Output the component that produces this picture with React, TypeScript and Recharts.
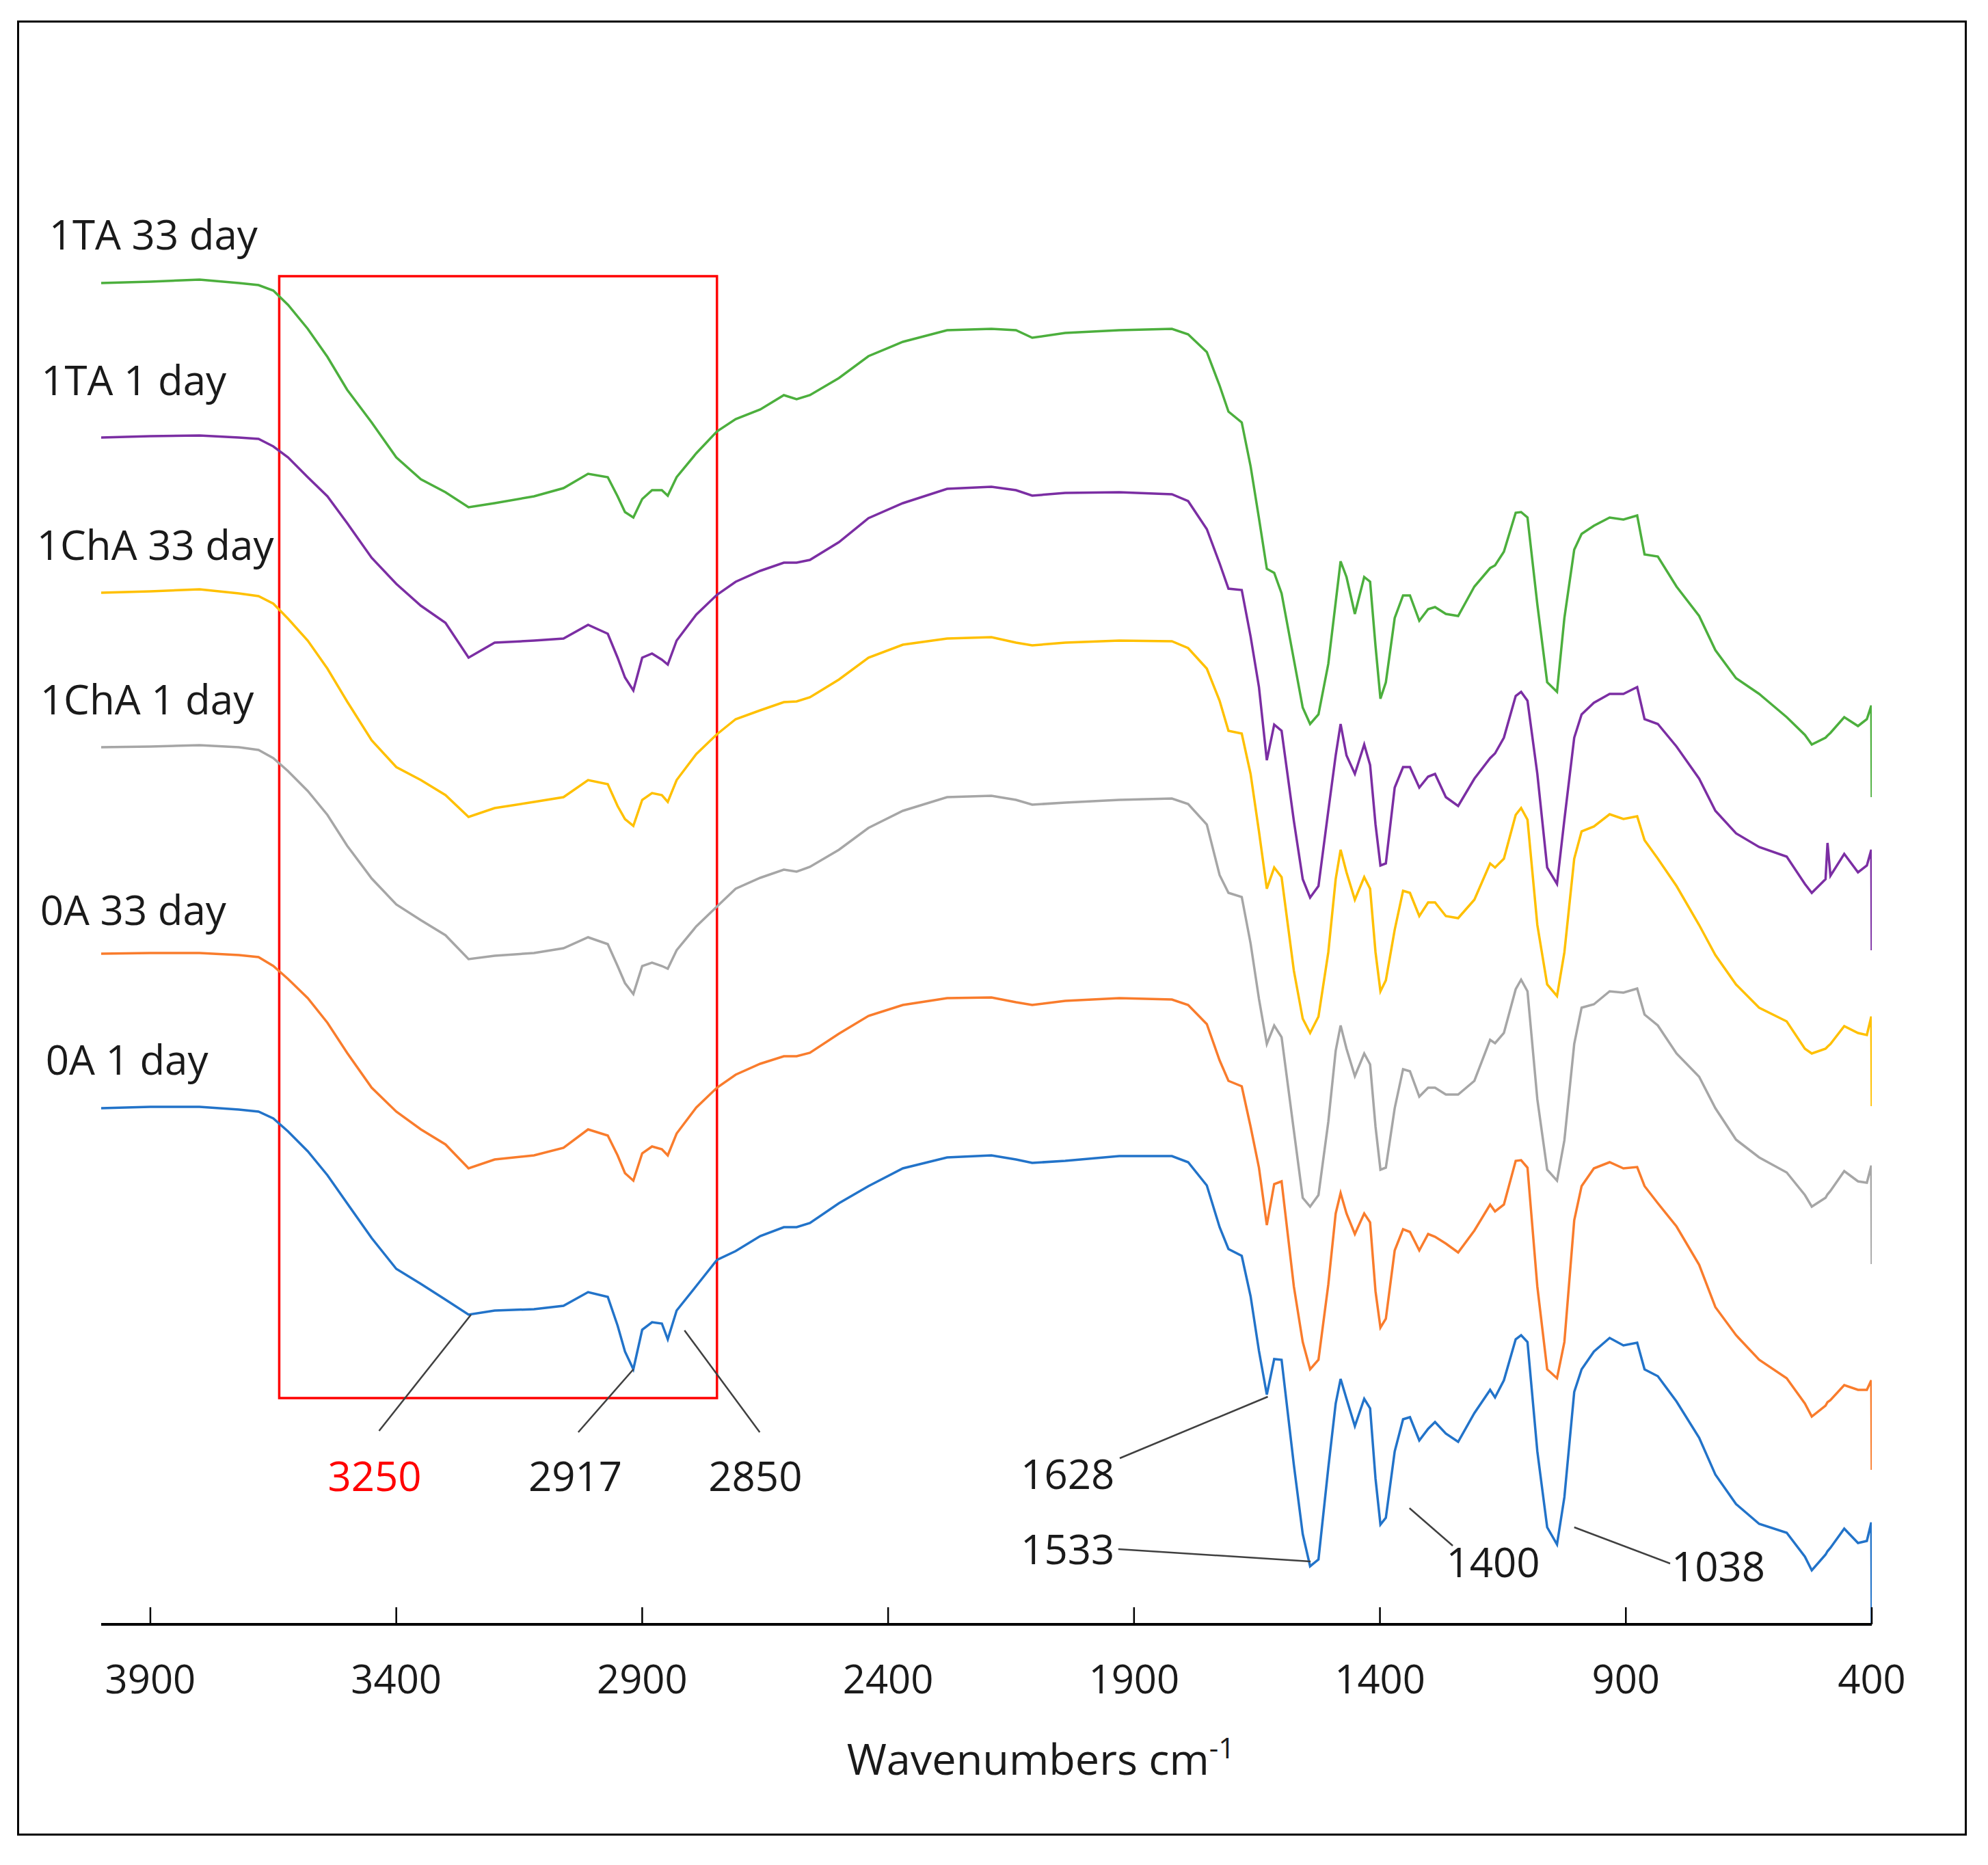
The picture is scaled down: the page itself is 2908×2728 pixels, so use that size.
import React from 'react';
import { LineChart, Line, XAxis, YAxis, ReferenceArea, ReferenceLine, ReferenceDot } from 'recharts';

const FONT = "'Open Sans', 'Noto Sans', sans-serif";

// wavenumbers (cm-1), shared grid for all spectra
const wavenumbers = [
  4000, 3900, 3800, 3720, 3680, 3650, 3620, 3580, 3540, 3500, 3450, 3400, 3350, 3300, 3253, 3200, 3120, 3060, 3010, 2970,
  2950, 2935, 2918, 2900, 2880, 2860, 2848, 2830, 2790, 2748, 2710, 2660, 2612, 2586, 2559, 2500, 2440, 2370, 2280, 2190,
  2140, 2107, 2040, 1930, 1823, 1790, 1752, 1726, 1708, 1681, 1663, 1646, 1630, 1615, 1600, 1575, 1557, 1542, 1525, 1505,
  1490, 1480, 1468, 1451, 1432, 1420, 1409, 1399, 1388, 1370, 1353, 1339, 1320, 1302, 1288, 1266, 1241, 1208, 1176, 1166,
  1148, 1124, 1113, 1100, 1080, 1060, 1040, 1025, 1005, 990, 965, 933, 905, 877, 862, 835, 797, 751, 718, 676,
  629, 573, 536, 522, 494, 490, 484, 456, 428, 410, 401, 400,
];

// offset transmittance (arbitrary units)
const ta33Day = [
  196.2, 196.4, 196.7, 196.2, 195.9, 195.1, 193.0, 189.5, 185.4, 180.6, 175.8, 170.7, 167.5, 165.6, 163.4, 164.0, 165.0, 166.2, 168.3, 167.8,
  165.0, 162.7, 161.9, 164.6, 165.9, 165.9, 165.1, 167.8, 171.3, 174.5, 176.3, 177.7, 179.8, 179.2, 179.8, 182.3, 185.5, 187.6, 189.3, 189.5,
  189.3, 188.2, 188.9, 189.3, 189.5, 188.7, 186.1, 181.2, 177.4, 175.8, 169.4, 161.8, 154.4, 153.8, 150.8, 141.1, 134.1, 131.7, 133.1, 140.5,
  149.5, 155.5, 153.2, 147.8, 153.2, 152.5, 143.1, 135.4, 137.8, 147.2, 150.5, 150.5, 146.8, 148.5, 148.8, 147.8, 147.5, 151.8, 154.5, 154.9,
  156.9, 162.6, 162.7, 161.9, 149.2, 137.8, 136.4, 147.2, 157.2, 159.5, 160.7, 161.9, 161.6, 162.2, 156.5, 156.2, 151.8, 147.5, 142.5, 138.4,
  136.1, 132.7, 130.1, 128.7, 129.7, 130.0, 130.4, 132.7, 131.4, 132.4, 134.4, 121.0,
];
const ta1Day = [
  173.6, 173.8, 173.9, 173.6, 173.4, 172.3, 170.7, 167.8, 165.0, 161.1, 156.0, 152.2, 149.0, 146.5, 141.4, 143.6, 143.9, 144.2, 146.2, 144.9,
  141.4, 138.5, 136.6, 141.4, 142.0, 141.1, 140.4, 143.9, 147.7, 150.6, 152.5, 154.1, 155.3, 155.3, 155.7, 158.3, 161.8, 164.0, 166.1, 166.4,
  165.9, 165.1, 165.5, 165.6, 165.3, 164.3, 160.2, 155.2, 151.5, 151.3, 144.5, 137.1, 126.4, 131.6, 130.7, 117.5, 109.0, 106.3, 108.0, 119.0,
  127.1, 131.7, 127.1, 124.4, 128.7, 125.7, 117.0, 111.0, 111.3, 122.4, 125.4, 125.4, 122.4, 124.0, 124.4, 121.0, 119.7, 123.7, 126.7, 127.4,
  129.7, 135.8, 136.4, 135.1, 124.4, 110.7, 108.3, 117.7, 129.7, 133.1, 134.8, 136.1, 136.1, 137.1, 132.4, 131.7, 128.4, 123.7, 119.0, 115.7,
  113.7, 112.3, 108.3, 107.0, 109.0, 114.3, 109.5, 112.7, 110.0, 111.0, 113.3, 98.6,
];
const cha33Day = [
  150.9, 151.1, 151.4, 150.8, 150.4, 149.3, 147.1, 143.9, 139.8, 135.0, 129.3, 125.4, 123.5, 121.3, 118.1, 119.4, 120.3, 121.0, 123.5, 122.9,
  119.7, 117.8, 116.8, 120.6, 121.6, 121.3, 120.3, 123.5, 127.3, 130.2, 132.4, 133.7, 134.9, 135.0, 135.6, 138.2, 141.4, 143.3, 144.2, 144.4,
  143.6, 143.2, 143.6, 143.9, 143.8, 142.8, 139.8, 135.1, 130.7, 130.3, 124.4, 116.0, 107.6, 110.7, 109.3, 95.6, 88.6, 86.5, 88.9, 98.3,
  109.0, 113.3, 110.0, 106.0, 109.3, 107.6, 98.3, 92.6, 94.2, 101.6, 107.3, 107.0, 103.6, 105.6, 105.6, 103.6, 103.3, 106.0, 111.3, 110.7,
  112.0, 118.4, 119.4, 117.7, 102.3, 93.6, 91.9, 98.3, 112.0, 116.0, 116.7, 118.5, 117.8, 118.2, 114.7, 112.0, 108.0, 102.3, 97.9, 93.6,
  90.2, 88.2, 84.2, 83.5, 84.2, 84.5, 84.9, 87.5, 86.5, 86.2, 88.9, 75.8,
];
const cha1Day = [
  128.3, 128.4, 128.6, 128.3, 127.9, 126.7, 124.8, 121.9, 118.4, 113.9, 109.1, 105.3, 103.0, 100.8, 97.3, 97.8, 98.2, 98.9, 100.5, 99.5,
  96.3, 93.8, 92.2, 96.3, 96.8, 96.3, 95.9, 98.6, 102.1, 105.0, 107.6, 109.2, 110.4, 110.1, 110.8, 113.3, 116.5, 119.0, 121.0, 121.2,
  120.6, 119.9, 120.2, 120.6, 120.8, 120.0, 117.0, 109.6, 107.0, 106.4, 99.6, 91.5, 84.9, 87.6, 85.9, 72.2, 62.4, 61.1, 62.8, 73.5,
  83.9, 87.6, 84.2, 80.2, 83.5, 81.9, 72.8, 66.5, 66.8, 75.5, 81.2, 80.9, 77.2, 78.5, 78.5, 77.5, 77.5, 79.5, 85.5, 85.0,
  86.5, 92.9, 94.3, 92.6, 76.8, 66.5, 64.9, 70.8, 84.9, 90.2, 90.7, 92.6, 92.4, 93.0, 89.2, 87.6, 83.5, 80.1, 75.5, 70.9,
  68.3, 66.1, 62.8, 61.1, 62.4, 62.9, 63.4, 66.3, 64.8, 64.6, 67.1, 52.7,
];
const a0_33Day = [
  98.1, 98.2, 98.2, 97.9, 97.6, 96.3, 94.4, 91.6, 88.0, 83.6, 78.5, 75.0, 72.4, 70.2, 66.7, 68.0, 68.6, 69.7, 72.4, 71.5,
  68.6, 66.0, 64.9, 68.9, 69.9, 69.5, 68.6, 71.8, 75.6, 78.5, 80.4, 82.0, 83.1, 83.1, 83.6, 86.4, 89.0, 90.6, 91.6, 91.7,
  91.0, 90.6, 91.2, 91.6, 91.4, 90.6, 87.8, 82.5, 79.5, 78.7, 72.8, 66.8, 58.4, 64.4, 64.8, 49.4, 41.3, 37.3, 38.7, 49.7,
  60.1, 63.1, 60.1, 57.1, 60.1, 58.8, 48.7, 43.4, 44.7, 54.7, 57.8, 57.4, 54.7, 57.1, 56.7, 55.7, 54.4, 57.6, 61.4, 60.4,
  61.4, 67.8, 67.9, 66.8, 49.4, 37.3, 36.0, 41.3, 59.1, 64.1, 66.7, 67.6, 66.7, 66.9, 64.1, 61.6, 58.2, 52.6, 46.4, 42.3,
  38.7, 36.0, 32.3, 30.4, 32.0, 32.5, 32.8, 35.0, 34.3, 34.3, 35.7, 22.6,
];
const a0_1Day = [
  75.5, 75.7, 75.7, 75.3, 75.0, 74.0, 72.1, 69.2, 65.7, 61.6, 56.5, 52.0, 49.8, 47.5, 45.3, 45.9, 46.1, 46.6, 48.6, 47.9,
  43.7, 39.9, 37.3, 43.1, 44.2, 44.0, 41.7, 45.9, 49.5, 53.3, 54.6, 56.8, 58.1, 58.1, 58.7, 61.6, 64.1, 66.7, 68.3, 68.6,
  68.0, 67.5, 67.8, 68.5, 68.5, 67.6, 64.2, 58.1, 54.9, 53.9, 48.0, 40.0, 33.6, 38.8, 38.7, 23.3, 13.2, 8.5, 9.5, 22.9,
  32.3, 35.9, 33.0, 29.0, 33.0, 31.6, 21.3, 14.6, 15.6, 25.3, 30.0, 30.3, 26.9, 28.6, 29.6, 27.9, 26.7, 30.9, 34.3, 33.2,
  35.7, 41.7, 42.3, 41.3, 25.3, 14.2, 11.7, 18.6, 34.0, 37.3, 39.9, 41.9, 40.8, 41.2, 37.3, 36.3, 32.6, 27.3, 21.9, 17.6,
  14.7, 13.4, 9.9, 7.9, 10.2, 10.7, 11.2, 14.0, 11.9, 12.2, 14.9, 0.0,
];

const seriesKeys = ['a0_1', 'a0_33', 'cha1', 'cha33', 'ta1', 'ta33'];
const seriesNames = ['0A 1 day', '0A 33 day', '1ChA 1 day', '1ChA 33 day', '1TA 1 day', '1TA 33 day'];
const seriesColors = ['#2273C9', '#F97C2C', '#A6A6A6', '#FFC000', '#7B2EA3', '#4CAF3D'];
const seriesValues = [a0_1Day, a0_33Day, cha1Day, cha33Day, ta1Day, ta33Day];

// series label anchors (wavenumber, value) at left of the traces
const labelW = [4113, 4124, 4124, 4131, 4122, 4106];
const labelV = [82.6, 104.5, 135.3, 157.9, 182.0, 203.3];

const tickValues = [3900, 3400, 2900, 2400, 1900, 1400, 900, 400];

// highlighted region
const boxX = [3638, 2748];
const boxY = [33.1, 197.2];

// peak annotations: text, text position, leader line
const peakTexts = ['3250', '2917', '2850', '1628', '1533', '1400', '1038'];
const peakTextColors = ['#FF0000', '#1a1a1a', '#1a1a1a', '#1a1a1a', '#1a1a1a', '#1a1a1a', '#1a1a1a'];
const peakTextW = [3444, 3036, 2670, 2035, 2035, 1170, 712];
const peakTextV = [21.7, 21.7, 21.7, 22.0, 11.0, 9.1, 8.5];
const leaderFrom = [[3248, 45.3], [2918, 37.3], [2814, 43.0], [1628, 33.3], [1932, 11.0], [1340, 17.0], [1005, 14.2]];
const leaderTo = [[3435, 28.3], [3030, 28.1], [2661, 28.1], [1929, 24.3], [1541, 9.2], [1252, 11.5], [810, 8.9]];

// axis title anchor (start of text, baseline)
const titleW = 2484;
const titleV = -22.0;

const data = wavenumbers.map((w, i) => {
  const row: Record<string, number> = { w };
  seriesKeys.forEach((k, j) => {
    row[k] = seriesValues[j][i];
  });
  return row;
});

const makeText = (text: string, anchor: string, color: string, size: number) => (props: any) => (
  <text
    x={props.cx}
    y={props.cy}
    dy="0.36em"
    textAnchor={anchor}
    fill={color}
    fontSize={size}
    fontFamily={FONT}
  >
    {text}
  </text>
);

const titleShape = (props: any) => (
  <text x={props.cx} y={props.cy} textAnchor="start" fill="#1a1a1a" fontSize={63} fontFamily={FONT}>
    <tspan>Wavenumbers cm</tspan>
    <tspan dy={-24} fontSize={42}>-1</tspan>
  </text>
);

export default function App() {
  return (
    <div style={{ position: 'absolute', left: 0, top: 0, width: 2908, height: 2728, background: '#fff' }}>
      <div
        style={{
          position: 'absolute',
          left: 25,
          top: 30,
          width: 2852,
          height: 2655,
          border: '3px solid #000',
          boxSizing: 'border-box',
        }}
      />
      <div style={{ position: 'absolute', left: 0, top: 0 }}>
        <LineChart width={2908} height={2728} data={data} margin={{ top: 176, right: 170, bottom: 0, left: 148 }}>
          <XAxis
            dataKey="w"
            type="number"
            domain={[400, 4000]}
            reversed
            allowDataOverflow
            ticks={tickValues}
            interval={0}
            height={352}
            tickSize={-25}
            tickMargin={85}
            axisLine={{ stroke: '#000', strokeWidth: 4 }}
            tickLine={{ stroke: '#000', strokeWidth: 2.5 }}
            tick={{ fill: '#1a1a1a', fontSize: 58, fontFamily: FONT }}
          />
          <YAxis type="number" domain={[0, 220]} allowDataOverflow hide />
          {seriesKeys.map((k, j) => (
            <Line
              key={k}
              dataKey={k}
              name={seriesNames[j]}
              stroke={seriesColors[j]}
              strokeWidth={3.5}
              dot={false}
              type="linear"
              isAnimationActive={false}
            />
          ))}
          <ReferenceArea
            x1={boxX[0]}
            x2={boxX[1]}
            y1={boxY[0]}
            y2={boxY[1]}
            fill="none"
            fillOpacity={0}
            stroke="#FF0000"
            strokeWidth={3.5}
            ifOverflow="visible"
          />
          {leaderFrom.map((p, i) => (
            <ReferenceLine
              key={'l' + i}
              segment={[
                { x: p[0], y: p[1] },
                { x: leaderTo[i][0], y: leaderTo[i][1] },
              ]}
              stroke="#404040"
              strokeWidth={2.5}
              ifOverflow="visible"
            />
          ))}
          {peakTexts.map((t, i) => (
            <ReferenceDot
              key={'p' + i}
              x={peakTextW[i]}
              y={peakTextV[i]}
              r={1}
              ifOverflow="visible"
              shape={makeText(t, 'middle', peakTextColors[i], 60)}
            />
          ))}
          {seriesNames.map((n, j) => (
            <ReferenceDot
              key={'s' + j}
              x={labelW[j]}
              y={labelV[j]}
              r={1}
              ifOverflow="visible"
              shape={makeText(n, 'start', '#1a1a1a', 60)}
            />
          ))}
          <ReferenceDot x={titleW} y={titleV} r={1} ifOverflow="visible" shape={titleShape} />
        </LineChart>
      </div>
    </div>
  );
}
